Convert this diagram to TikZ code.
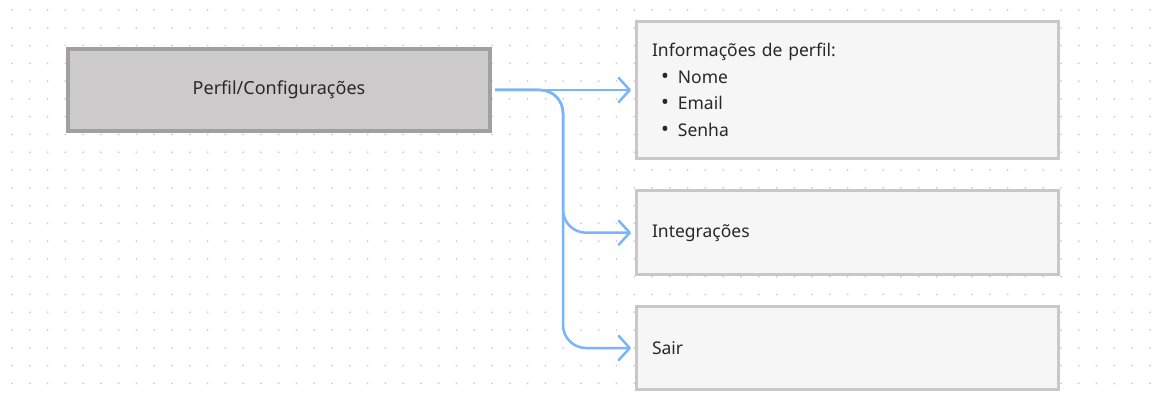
\documentclass[tikz,border=0pt]{standalone}
\usepackage{fontspec}
\setmainfont{Noto Sans}
\usetikzlibrary{arrows.meta}
\definecolor{dotgray}{RGB}{205,205,205}
\definecolor{maingray}{RGB}{160,160,160}
\definecolor{mainfill}{RGB}{205,202,203}
\definecolor{boxgray}{RGB}{200,200,200}
\definecolor{boxfill}{RGB}{246,246,246}
\definecolor{textgray}{RGB}{40,40,40}
\definecolor{linkblue}{RGB}{122,180,250}
% list bullet for the profile box
\newcommand{\listdot}{\hspace*{9pt}{\fontsize{21}{26.7}\selectfont•}\hspace{9pt}}
\begin{document}
\begin{tikzpicture}[x=1pt,y=-1pt,
  mainbox/.style={draw=maingray, line width=4pt, fill=mainfill,
    minimum width=422pt, minimum height=82pt, inner sep=0pt,
    font=\fontsize{18}{22}\selectfont, text=textgray},
  itembox/.style={draw=boxgray, line width=3pt, fill=boxfill,
    minimum width=422pt, text width=391pt, inner xsep=15.5pt, inner ysep=0pt,
    align=left, font=\fontsize{17.5}{26.7}\selectfont, text=textgray},
  link/.style={draw=linkblue, line width=2.5pt, rounded corners=23pt,
    -{Straight Barb[length=11pt,width=24pt,round]}, shorten >=4pt, shorten <=3pt}]
  \useasboundingbox (0,0) rectangle (1161,398);
  \fill[white] (0,0) rectangle (1161,398);
  % dotted canvas grid
  \foreach \i in {0,...,64}
    \foreach \j in {0,...,21}
      \fill[dotgray] (12+17.78*\i, 10+17.78*\j) circle (1pt);

  \node[mainbox] (main) at (279,90) {Perfil/Configurações};

  \node[itembox, minimum height=137pt] (info) at (847.5,90)
    {Informações de perfil:\\
     \listdot Nome\\
     \listdot Email\\
     \listdot Senha};
  \node[itembox, minimum height=84pt] (integ) at (847.5,232.7) {Integrações};
  \node[itembox, minimum height=83pt] (sair) at (847.5,348) {Sair};

  \coordinate (trunk) at (563,90);

  \draw[link] (main.east) -- (info.west);
  \draw[link] (main.east) -| (trunk |- integ.west) -- (integ.west);
  \draw[link] (main.east) -| (trunk |- sair.west) -- (sair.west);
\end{tikzpicture}
\end{document}
